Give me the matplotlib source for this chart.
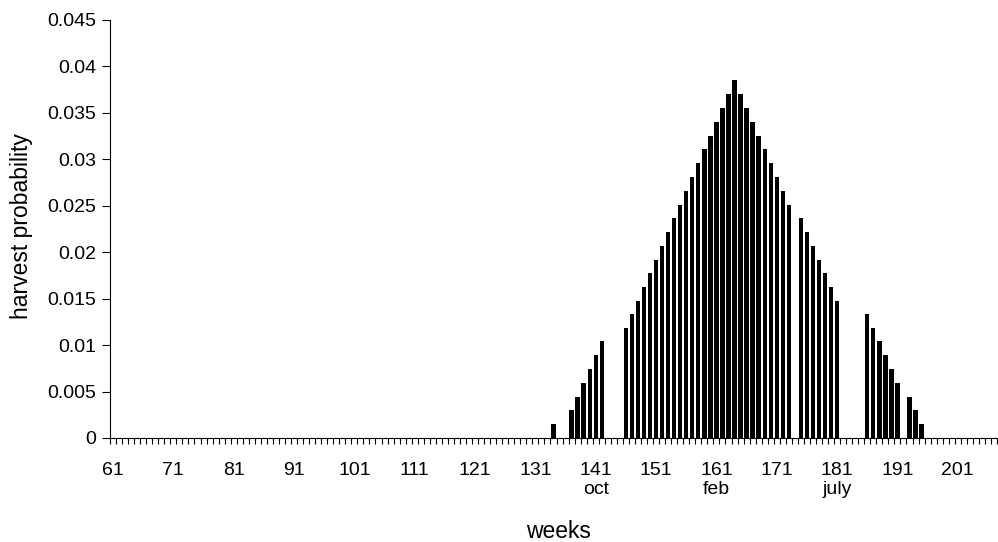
import matplotlib
matplotlib.use("Agg")
import matplotlib.pyplot as plt
import numpy as np
import pandas as pd

plt.rcParams["font.family"] = ["Liberation Sans", "DejaVu Sans"]

# category axis: every week from 61 to 207
weeks = list(range(61, 208))

# weeks with a non-zero harvest probability and the value
harvest_weeks = [134,
                 137, 138, 139, 140, 141, 142,
                 146, 147, 148, 149, 150, 151, 152, 153, 154, 155, 156, 157,
                 158, 159, 160, 161, 162, 163, 164, 165, 166, 167, 168, 169,
                 170, 171, 172, 173,
                 175, 176, 177, 178, 179, 180, 181,
                 186, 187, 188, 189, 190, 191,
                 193, 194, 195]
harvest_prob = [0.0015,
                0.0030, 0.0044, 0.0059, 0.0074, 0.0089, 0.0104,
                0.0118, 0.0133, 0.0148, 0.0163, 0.0178, 0.0192, 0.0207, 0.0222,
                0.0237, 0.0251, 0.0266, 0.0281,
                0.0296, 0.0311, 0.0325, 0.0340, 0.0355, 0.0370, 0.0385, 0.0370,
                0.0355, 0.0340, 0.0325, 0.0311,
                0.0296, 0.0281, 0.0266, 0.0251,
                0.0237, 0.0222, 0.0207, 0.0192, 0.0178, 0.0163, 0.0148,
                0.0133, 0.0118, 0.0104, 0.0089, 0.0074, 0.0059,
                0.0044, 0.0030, 0.0015]

month_labels = {141: "oct", 161: "feb", 181: "july"}
y_ticks = [0, 0.005, 0.01, 0.015, 0.02, 0.025, 0.03, 0.035, 0.04, 0.045]

series = pd.Series(harvest_prob, index=harvest_weeks).reindex(weeks, fill_value=0.0)
x = np.arange(len(weeks))

fig = plt.figure(figsize=(9.98, 5.42), dpi=100)
ax = fig.add_axes([110 / 998, 1 - 438 / 542, 887 / 998, 418 / 542])

ax.bar(x, series.values, width=0.72, color="black", linewidth=0)

ax.set_xlim(-0.5, len(weeks) - 0.5)
ax.set_ylim(0, 0.045)

# x: labels every 10 weeks at category centres, tick marks at category boundaries
major = [i for i, w in enumerate(weeks) if (w - 61) % 10 == 0]
labels = []
for i in major:
    w = weeks[i]
    labels.append(f"{w}\n{month_labels[w]}" if w in month_labels else str(w))
ax.set_xticks(major)
ax.set_xticklabels(labels, fontsize=14)
ax.set_xticks(np.arange(len(weeks) + 1) - 0.5, minor=True)
ax.tick_params(axis="x", which="major", length=0, pad=17)
ax.tick_params(axis="x", which="minor", length=4, width=0.8, direction="out")

ax.set_yticks(y_ticks)
ax.set_yticklabels([f"{v:g}" for v in y_ticks], fontsize=14)
ax.tick_params(axis="y", length=6, width=0.8, direction="out", pad=4)

for side in ("top", "right"):
    ax.spines[side].set_visible(False)
for side in ("left", "bottom"):
    ax.spines[side].set_linewidth(0.8)

ax.set_ylabel("harvest probability", fontsize=16.5)
ax.set_xlabel("weeks", fontsize=16.5)
ax.yaxis.set_label_coords(22 / 998, 1 - 226 / 542, transform=fig.transFigure)
ax.xaxis.set_label_coords(558 / 998, 1 - 532 / 542, transform=fig.transFigure)
ax.yaxis.label.set_va("center")
ax.xaxis.label.set_va("center")

fig.savefig("out.png", dpi=100)
